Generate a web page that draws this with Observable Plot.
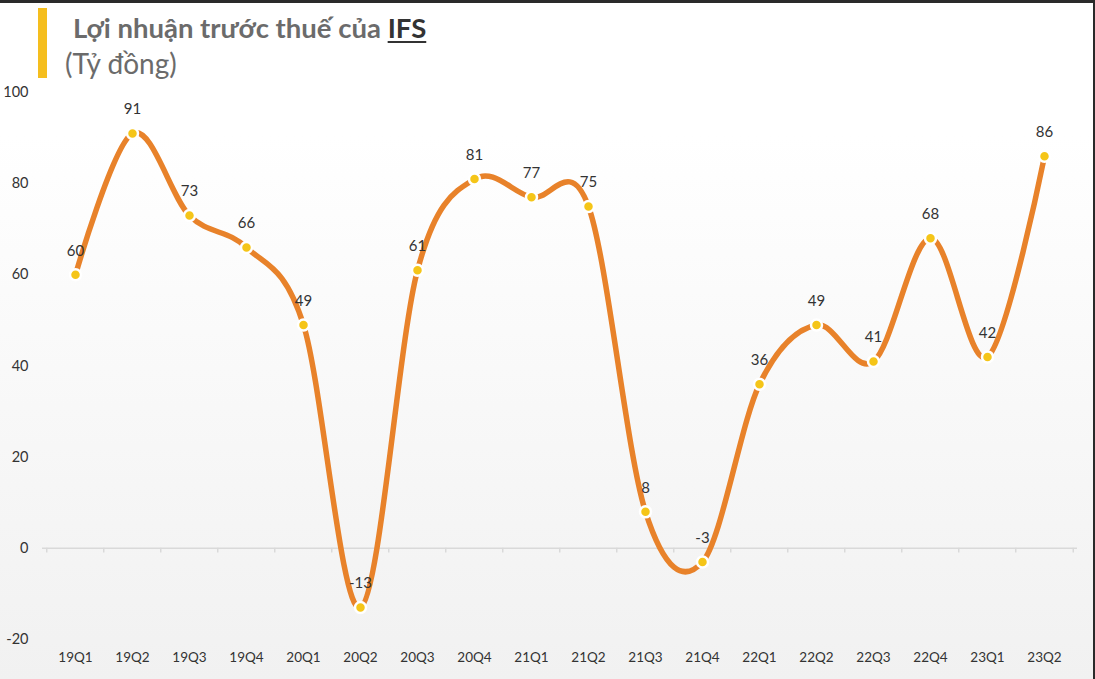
<!DOCTYPE html>
<html>
<head>
<meta charset="utf-8">
<script src="https://cdn.jsdelivr.net/npm/d3@7"></script>
<script src="https://cdn.jsdelivr.net/npm/@observablehq/plot@0.6"></script>
<style>
  html, body { margin: 0; padding: 0; }
  body { width: 1095px; height: 679px; overflow: hidden; font-family: Lato, "Open Sans", sans-serif; }
  #wrap { position: relative; width: 1095px; height: 679px;
    background: linear-gradient(to bottom, #ffffff 0%, #ffffff 20%, #f1f1f1 100%); }
  #frame { position: absolute; left: 0; top: 0; width: 1095px; height: 679px; pointer-events: none;
    box-shadow: inset 0 3px 0 #2a2a2a, inset -2px 0 0 #2a2a2a; }
  #head { position: relative; height: 70px; }
  #bar { position: absolute; left: 38px; top: 8px; width: 9px; height: 70px; background: #F5BE1E; z-index: 2; }
  #title { position: absolute; left: 73px; top: 11px; font-size: 27.5px; font-weight: bold; color: #6b6b6b; white-space: nowrap; z-index: 2; }
  #title u { color: #333; text-decoration-thickness: 2px; text-underline-offset: 3px; }
  #sub { position: absolute; left: 65px; top: 46px; font-size: 28px; color: #6b6b6b; white-space: nowrap; z-index: 2; }
  #chart svg { display: block; background: transparent; }
</style>
</head>
<body>
<div id="wrap">
  <div id="head">
    <div id="bar"></div>
    <div id="title">Lợi nhuận trước thuế của <u>IFS</u></div>
    <div id="sub">(Tỷ đồng)</div>
  </div>
  <div id="chart"></div>
  <div id="frame"></div>
</div>
<script>
const quarters = ["19Q1","19Q2","19Q3","19Q4","20Q1","20Q2","20Q3","20Q4","21Q1","21Q2","21Q3","21Q4","22Q1","22Q2","22Q3","22Q4","23Q1","23Q2"];
const profit = [60, 91, 73, 66, 49, -13, 61, 81, 77, 75, 8, -3, 36, 49, 41, 68, 42, 86];
const yTicks = [-20, 0, 20, 40, 60, 80, 100];

const data = quarters.map((q, i) => ({q, v: profit[i]}));

const W = 1095, H = 609;
const mL = 42, mR = 18;
const step = (W - mL - mR) / quarters.length;

const chart = Plot.plot({
  width: W,
  height: H,
  marginLeft: mL,
  marginRight: mR,
  marginTop: 22,
  marginBottom: 40,
  style: {background: "transparent", fontFamily: "Lato, 'Open Sans', sans-serif", fontSize: "14px", color: "#333", overflow: "visible"},
  x: {type: "point", domain: quarters, padding: 0.5, label: null},
  y: {domain: [-20, 100], label: null},
  marks: [
    Plot.axisY({ticks: yTicks, tickFormat: d => String(d), tickSize: 0, tickPadding: 14, label: null, fontSize: 14.5, fill: "#333"}),
    Plot.axisX({tickSize: 0, tickPadding: 13, label: null, fontSize: 13.5, fill: "#333"}),
    Plot.ruleY([0], {stroke: "#d9d9d9", strokeWidth: 1.5}),
    Plot.ruleX(quarters, {x: d => d, y1: 0, y2: -1, dx: -step / 2, stroke: "#d9d9d9", strokeWidth: 1.5}),
    Plot.ruleX(quarters.slice(-1), {x: d => d, y1: 0, y2: -1, dx: step / 2, stroke: "#d9d9d9", strokeWidth: 1.5}),
    Plot.line(data, {x: "q", y: "v", curve: "cardinal", tension: 0, stroke: "#E8822A", strokeWidth: 5.5, strokeLinecap: "round"}),
    Plot.dot(data, {x: "q", y: "v", r: 5.5, fill: "#F5C518", stroke: "white", strokeWidth: 2.5}),
    Plot.text(data, {x: "q", y: "v", text: d => String(d.v), dy: -24, fontSize: 15, fill: "#333",
      fontFamily: d => d.v < 0 ? "'Liberation Serif', serif" : "Lato, 'Open Sans', sans-serif"})
  ]
});
document.getElementById("chart").appendChild(chart);
</script>
</body>
</html>
